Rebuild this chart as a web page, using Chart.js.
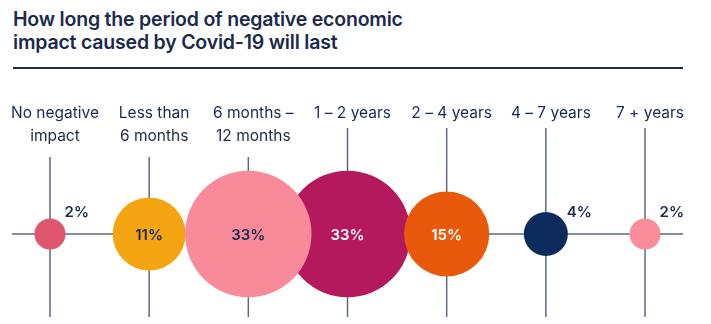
<!DOCTYPE html>
<html>
<head>
<meta charset="utf-8">
<script src="https://cdn.jsdelivr.net/npm/chart.js@4.4.1/dist/chart.umd.min.js"></script>
<style>
  html, body { margin: 0; background: #fff; }
  #wrap { position: relative; width: 711px; height: 324px; overflow: hidden; }
  #title {
    position: absolute; left: 13px; top: 8px;
    font: 600 19.5px/23px Inter, sans-serif; color: #1b2a4a; letter-spacing: -0.2px;
  }
  #rule { position: absolute; left: 13px; top: 67px; width: 670px; height: 2px; background: #1f2d45; }
  canvas { position: absolute; left: 0; top: 0; }
</style>
</head>
<body>
<div id="wrap">
  <div id="title">How long the period of negative economic<br>impact caused by Covid-19 will last</div>
  <div id="rule"></div>
  <canvas id="chart" width="711" height="324"></canvas>
</div>
<script>
// ─── Data ─────────────────────────────────────────────────────────────
const CATEGORIES = [
  ['No negative', 'impact'],
  ['Less than', '6 months'],
  ['6 months –', '12 months'],
  ['1 – 2 years'],
  ['2 – 4 years'],
  ['4 – 7 years'],
  ['7 + years'],
];
const SHARES = [2, 11, 33, 33, 15, 4, 2];   // % of respondents

// ─── Styles ───────────────────────────────────────────────────────────
const FILLS  = ['#e0566f', '#f5a511', '#f98a9a', '#b4195e', '#e8590c', '#0d2a5c', '#f98d9c'];
const INK    = ['#1b2a4a', '#1b2a4a', '#1b2a4a', '#ffffff', '#ffffff', '#1b2a4a', '#1b2a4a'];
const NAVY   = '#1b2a4a';
const GRID   = '#5b6982';
const R_UNIT = 11;                 // px of radius per sqrt(%)
const INSIDE_MIN = 10;             // labels go inside bubbles at/above this share

const radius = v => R_UNIT * Math.sqrt(v);

// magenta (1–2 years) sits underneath its neighbours, so draw it first
const points = SHARES.map((v, i) => ({ x: i, y: 0, r: radius(v), v }));
const drawOrder = [3, 0, 1, 2, 4, 5, 6];

const gridAndLabels = {
  id: 'gridAndLabels',
  beforeDatasetsDraw(chart) {
    const { ctx, chartArea, scales: { x, y } } = chart;
    const y0 = y.getPixelForValue(0);
    ctx.save();
    ctx.strokeStyle = GRID;
    ctx.lineWidth = 1.5;

    ctx.beginPath();
    ctx.moveTo(chartArea.left, y0);
    ctx.lineTo(chartArea.right, y0);
    ctx.stroke();

    ctx.font = '400 15.5px Inter, sans-serif';
    ctx.fillStyle = NAVY;
    ctx.textAlign = 'center';
    ctx.textBaseline = 'alphabetic';
    CATEGORIES.forEach((lines, i) => {
      const px = x.getPixelForValue(i);
      lines.forEach((t, k) => ctx.fillText(t, px + 5, 118 + k * 23));
      const top = lines.length > 1 ? 157 : 128;
      ctx.beginPath();
      ctx.moveTo(px, top);
      ctx.lineTo(px, chartArea.bottom);
      ctx.stroke();
    });
    ctx.restore();
  },
  afterDatasetsDraw(chart) {
    const { ctx, scales: { x, y } } = chart;
    const y0 = y.getPixelForValue(0);
    ctx.save();
    ctx.font = '600 15px Inter, sans-serif';
    SHARES.forEach((v, i) => {
      const px = x.getPixelForValue(i);
      const r = radius(v);
      const txt = v + '%';
      if (v >= INSIDE_MIN) {
        ctx.fillStyle = INK[i];
        ctx.textAlign = 'center';
        ctx.textBaseline = 'middle';
        ctx.fillText(txt, px, y0 + 1);
      } else {
        ctx.fillStyle = NAVY;
        ctx.textAlign = 'left';
        ctx.textBaseline = 'alphabetic';
        ctx.fillText(txt, px + r - 1, y0 - 17);
      }
    });
    ctx.restore();
  }
};

new Chart(document.getElementById('chart'), {
  type: 'bubble',
  data: {
    datasets: [{
      data: drawOrder.map(i => points[i]),
      backgroundColor: c => FILLS[c.raw.x],
      borderWidth: 0,
      hoverRadius: 0,
      clip: false,
    }]
  },
  options: {
    responsive: false,
    animation: false,
    events: [],
    layout: { autoPadding: false, padding: { left: 12, right: 28, top: 151, bottom: 7 } },
    plugins: { legend: { display: false }, tooltip: { enabled: false } },
    scales: {
      x: { type: 'linear', min: -0.383, max: 6.383, display: false },
      y: { type: 'linear', min: -1, max: 1, display: false },
    }
  },
  plugins: [gridAndLabels]
});
</script>
</body>
</html>
